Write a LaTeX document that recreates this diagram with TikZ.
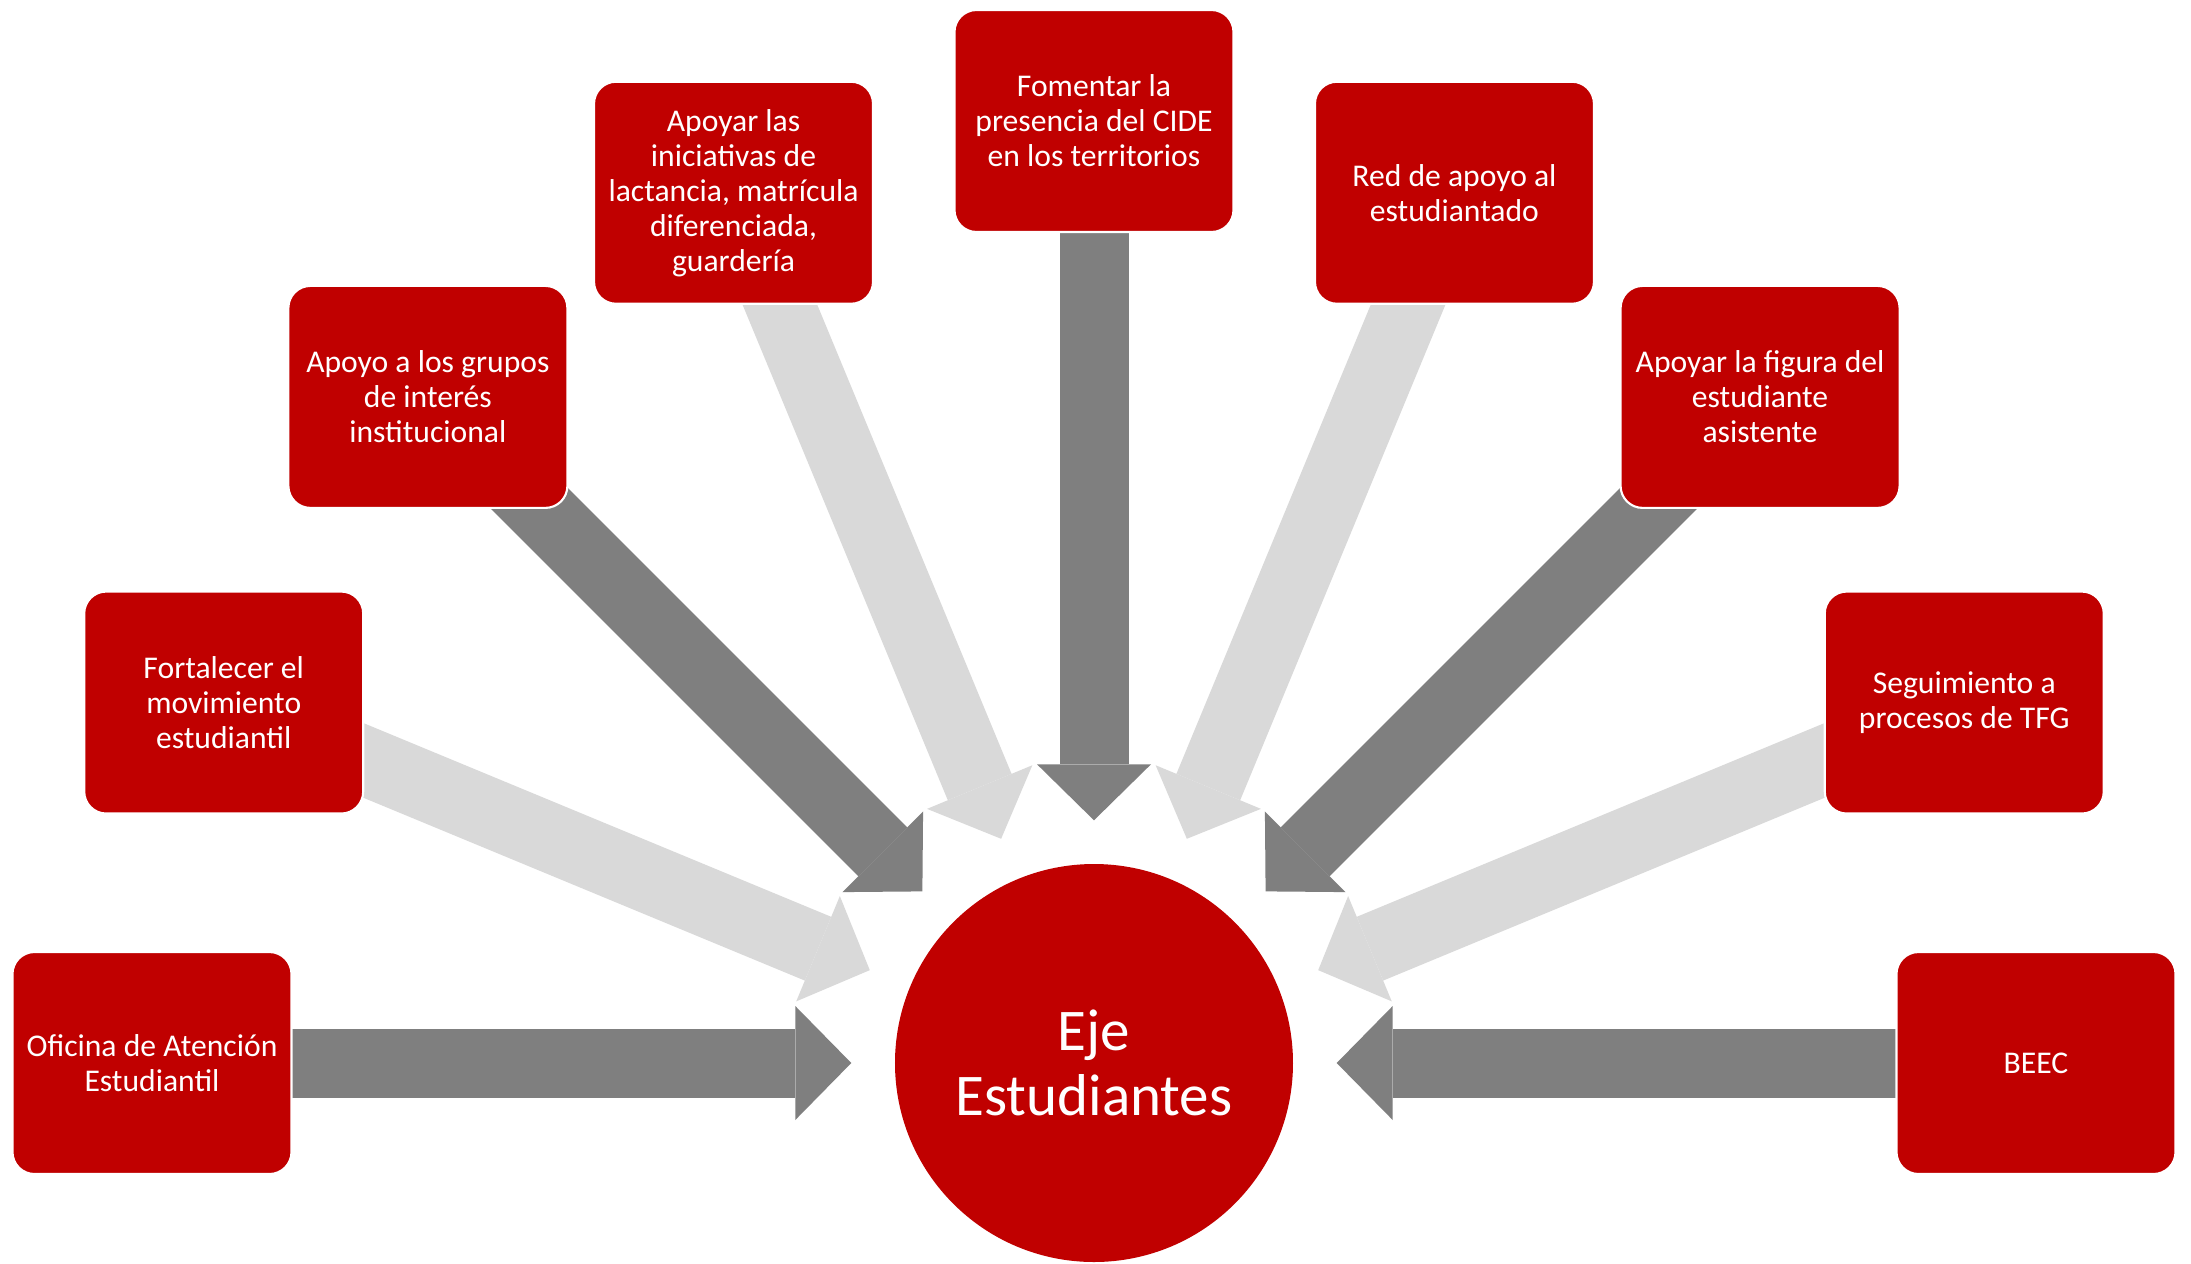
\documentclass[tikz,border=0pt]{standalone}
\usepackage{fontspec}
\setmainfont{Carlito}
\usetikzlibrary{arrows.meta,backgrounds}

\definecolor{ejered}{HTML}{C00000}
\definecolor{arrowdark}{HTML}{7F7F7F}
\definecolor{arrowlight}{HTML}{D9D9D9}

\tikzset{
  item/.style={draw=white, line width=0.6pt, fill=ejered, rounded corners=0.22cm,
               minimum width=2.79cm, minimum height=2.22cm, inner sep=1pt,
               text=white, align=center, font=\fontsize{9}{9.96}\selectfont},
  hubnode/.style={circle, fill=ejered, minimum size=3.98cm, text=white,
                  align=center, font=\fontsize{16.8}{18.3}\selectfont},
  flow/.style={line width=0.69cm, shorten >=0.43cm,
               -{Triangle[length=0.56cm, width=1.14cm, line width=0pt]}},
  flowdark/.style={flow, draw=arrowdark},
  flowlight/.style={flow, draw=arrowlight}
}

\begin{document}
\begin{tikzpicture}
  \useasboundingbox (-10.94,-2.00) rectangle (10.97,10.63);

  % centre
  \node[hubnode] (hub) at (0,0) {Eje\\Estudiantes};

  % boxes on the outer ring
  \node[item] (oficina)    at (180:9.42)   {Oficina de Atención\\Estudiantil};
  \node[item] (fortalecer) at (157.5:9.42) {Fortalecer el\\movimiento\\estudiantil};
  \node[item] (grupos)     at (135:9.42)   {Apoyo a los grupos\\de interés\\institucional};
  \node[item] (lactancia)  at (112.5:9.42) {Apoyar las\\iniciativas de\\lactancia, matrícula\\diferenciada,\\guardería};
  \node[item] (cide)       at (90:9.42)    {Fomentar la\\presencia del CIDE\\en los territorios};
  \node[item] (red)        at (67.5:9.42)  {Red de apoyo al\\estudiantado};
  \node[item] (asistente)  at (45:9.42)    {Apoyar la figura del\\estudiante\\asistente};
  \node[item] (tfg)        at (22.5:9.42)  {Seguimiento a\\procesos de TFG};
  \node[item] (beec)       at (0:9.42)     {BEEC};

  % block arrows behind the boxes
  \begin{scope}[on background layer]
    \fill[white] (-10.94,-2.00) rectangle (10.97,10.63);
    \foreach \b/\s in {oficina/flowdark, fortalecer/flowlight, grupos/flowdark,
                       lactancia/flowlight, cide/flowdark, red/flowlight,
                       asistente/flowdark, tfg/flowlight, beec/flowdark}
      \draw[\s] (\b.center) -- (hub);
  \end{scope}
\end{tikzpicture}
\end{document}
